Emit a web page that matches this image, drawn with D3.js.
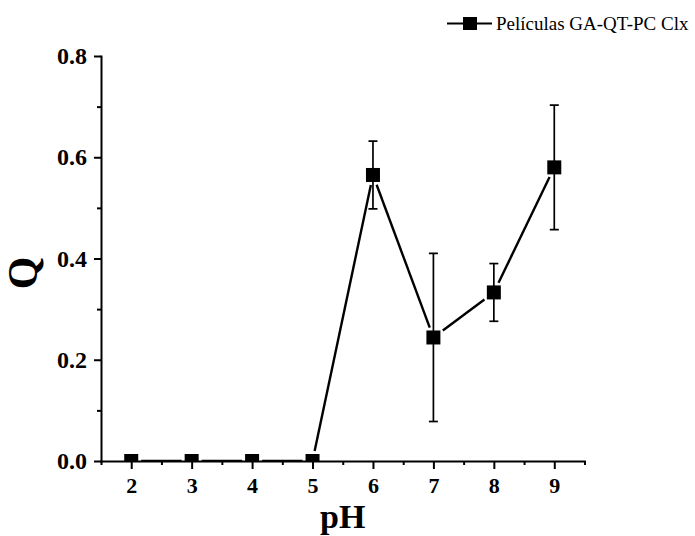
<!DOCTYPE html>
<html>
<head>
<meta charset="utf-8">
<title>Q vs pH</title>
<script src="https://d3js.org/d3.v7.min.js"></script>
<style>
body { margin: 0; background: #fff; }
svg text { font-family: "Liberation Serif", "Times New Roman", serif; fill: #000; }
.axis path, .axis line { stroke: #000; stroke-width: 2px; }
</style>
</head>
<body>
<svg id="chart" width="695" height="536"></svg>
<script>
// datos
var phValues = [2, 3, 4, 5, 6, 7, 8, 9];
var qValues  = [0, 0, 0, 0, 0.565, 0.244, 0.333, 0.580];
var qErrors  = [0, 0, 0, 0, 0.067, 0.166, 0.057, 0.123];
var xTicks = [2, 3, 4, 5, 6, 7, 8, 9];
var xMinorTicks = [1.5, 2.5, 3.5, 4.5, 5.5, 6.5, 7.5, 8.5, 9.5];
var yTicks = [0, 0.2, 0.4, 0.6, 0.8];
var yMinorTicks = [0.1, 0.3, 0.5, 0.7];
var seriesName = "Películas GA-QT-PC Clx";

var svg = d3.select("#chart");
// ojo: "top" es window.top, no usarlo
var mLeft = 101, mRight = 584.5, mTop = 56, mBottom = 461;

var x = d3.scaleLinear().domain([1.5, 9.5]).range([mLeft, mRight]);
var y = d3.scaleLinear().domain([0, 0.8]).range([mBottom, mTop]);

var data = phValues.map(function(p, i) {
    return { ph: p, q: qValues[i], err: qErrors[i] };
});

svg.append("defs").append("clipPath").attr("id", "plotclip")
    .append("rect")
    .attr("x", mLeft).attr("y", mTop - 20)
    .attr("width", mRight - mLeft).attr("height", mBottom - mTop + 20);

var plot = svg.append("g").attr("clip-path", "url(#plotclip)");

// segmentos con hueco alrededor del marcador
var half = 7, gap = 3;
for (var i = 0; i < data.length - 1; i++) {
    var x1 = x(data[i].ph), y1 = y(data[i].q);
    var x2 = x(data[i + 1].ph), y2 = y(data[i + 1].q);
    var dx = x2 - x1, dy = y2 - y1, len = Math.sqrt(dx * dx + dy * dy);
    var ux = dx / len, uy = dy / len;
    var t = half / Math.max(Math.abs(ux), Math.abs(uy)) + gap;
    plot.append("line")
        .attr("x1", x1 + ux * t).attr("y1", y1 + uy * t)
        .attr("x2", x2 - ux * t).attr("y2", y2 - uy * t)
        .attr("stroke", "#000").attr("stroke-width", 2.4);
}

// barras de error
var eb = plot.selectAll(".eb").data(data.filter(function(d) { return d.err > 0; }))
    .enter().append("g");
eb.append("line")
    .attr("x1", function(d) { return x(d.ph); })
    .attr("x2", function(d) { return x(d.ph); })
    .attr("y1", function(d) { return y(d.q + d.err); })
    .attr("y2", function(d) { return y(d.q - d.err); })
    .attr("stroke", "#000").attr("stroke-width", 1.7);
[1, -1].forEach(function(s) {
    eb.append("line")
        .attr("x1", function(d) { return x(d.ph) - 4.5; })
        .attr("x2", function(d) { return x(d.ph) + 4.5; })
        .attr("y1", function(d) { return y(d.q + s * d.err); })
        .attr("y2", function(d) { return y(d.q + s * d.err); })
        .attr("stroke", "#000").attr("stroke-width", 1.7);
});

plot.selectAll(".pt").data(data).enter().append("rect")
    .attr("x", function(d) { return x(d.ph) - half; })
    .attr("y", function(d) { return y(d.q) - half; })
    .attr("width", half * 2).attr("height", half * 2)
    .attr("fill", "#000");

// ejes
var xAxis = svg.append("g").attr("class", "axis")
    .attr("transform", "translate(0," + mBottom + ")")
    .call(d3.axisBottom(x).tickValues(xTicks).tickSize(8).tickPadding(8).tickSizeOuter(0));
svg.append("g").attr("class", "axis")
    .attr("transform", "translate(0," + mBottom + ")")
    .call(d3.axisBottom(x).tickValues(xMinorTicks).tickSize(4).tickFormat("").tickSizeOuter(0))
    .select(".domain").remove();
xAxis.attr("font-size", null).attr("font-family", null);
xAxis.selectAll("text").style("font-size", "22px").style("font-weight", "bold");

var yAxis = svg.append("g").attr("class", "axis")
    .attr("transform", "translate(" + mLeft + ",0)")
    .call(d3.axisLeft(y).tickValues(yTicks).tickSize(7).tickPadding(7)
        .tickSizeOuter(0).tickFormat(d3.format(".1f")));
svg.append("g").attr("class", "axis")
    .attr("transform", "translate(" + mLeft + ",0)")
    .call(d3.axisLeft(y).tickValues(yMinorTicks).tickSize(4).tickFormat("").tickSizeOuter(0))
    .select(".domain").remove();
yAxis.attr("font-size", null).attr("font-family", null);
yAxis.selectAll("text").style("font-size", "24px").style("font-weight", "bold");

svg.selectAll(".domain").attr("stroke-linecap", "square");

// titulos
svg.append("text")
    .attr("x", (mLeft + mRight) / 2).attr("y", 528)
    .attr("text-anchor", "middle")
    .style("font-size", "34px").style("font-weight", "bold")
    .text("pH");
svg.append("text")
    .attr("transform", "translate(37,273) rotate(-90)")
    .attr("text-anchor", "middle")
    .style("font-size", "42px").style("font-weight", "bold")
    .text("Q");

// leyenda
var lg = svg.append("g");
lg.append("line").attr("x1", 447).attr("x2", 492).attr("y1", 23.5).attr("y2", 23.5)
    .attr("stroke", "#000").attr("stroke-width", 2);
lg.append("rect").attr("x", 463).attr("y", 17).attr("width", 14).attr("height", 13).attr("fill", "#000");
lg.append("text").attr("x", 496).attr("y", 29.5)
    .style("font-size", "19px")
    .text(seriesName);
</script>
</body>
</html>
